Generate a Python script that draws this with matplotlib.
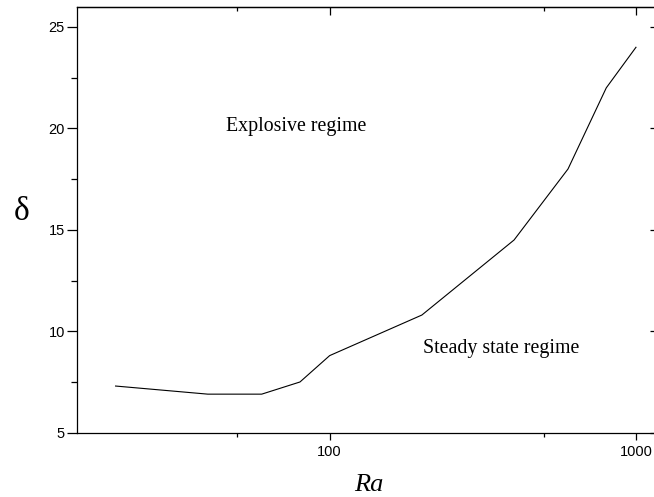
import numpy as np
import matplotlib
matplotlib.use("Agg")
import matplotlib.pyplot as plt
from matplotlib.ticker import FixedLocator, NullFormatter

# data
ra = [20, 40, 60, 80, 100, 200, 400, 600, 800, 1000]
delta = [7.3, 6.9, 6.9, 7.5, 8.8, 10.8, 14.5, 18.0, 22.0, 24.0]

x_major = [100, 1000]
x_minor = [50, 500]
y_major = [5, 10, 15, 20, 25]
y_minor = [7.5, 12.5, 17.5, 22.5]


def main():
    fig = plt.figure(figsize=(6.54, 4.97), dpi=100)
    # right spine sits just past the image edge, as in the reference
    ax = fig.add_axes([0.1182, 0.1294, 0.8913, 0.8571])

    ax.plot(ra, delta, color="black", linewidth=0.8)

    ax.set_xscale("log")
    ax.set_xlim(15, 1200)
    ax.set_ylim(5, 26)

    ax.xaxis.set_major_locator(FixedLocator(x_major))
    ax.xaxis.set_minor_locator(FixedLocator(x_minor))
    ax.xaxis.set_minor_formatter(NullFormatter())
    ax.set_xticklabels([str(v) for v in x_major])
    ax.yaxis.set_major_locator(FixedLocator(y_major))
    ax.yaxis.set_minor_locator(FixedLocator(y_minor))
    ax.set_yticklabels([str(v) for v in y_major])

    for s in ax.spines.values():
        s.set_linewidth(0.9)
    ax.spines["right"].set_visible(False)

    # bottom/left ticks point out, top/right mirrored inwards
    ax.tick_params(axis="x", which="major", direction="out", length=5, width=0.9,
                   pad=4, labelsize=10.5)
    ax.tick_params(axis="x", which="minor", direction="out", length=3, width=0.9)
    ax.tick_params(axis="y", which="major", direction="out", length=7, width=0.9,
                   pad=2, labelsize=10.5)
    ax.tick_params(axis="y", which="minor", direction="out", length=4, width=0.9)
    for lab in ax.get_xticklabels() + ax.get_yticklabels():
        lab.set_fontfamily("Liberation Sans")

    # mirrored ticks on top and right
    top = ax.secondary_xaxis("top")
    top.set_xscale("log")
    top.xaxis.set_major_locator(FixedLocator(x_major))
    top.xaxis.set_minor_locator(FixedLocator(x_minor))
    top.tick_params(which="major", direction="in", length=6, width=0.9, labeltop=False)
    top.tick_params(which="minor", direction="in", length=3, width=0.9)
    top.xaxis.set_major_formatter(NullFormatter())
    top.xaxis.set_minor_formatter(NullFormatter())
    top.spines["top"].set_linewidth(0.9)

    right = ax.secondary_yaxis("right")
    right.yaxis.set_major_locator(FixedLocator(y_major))
    right.yaxis.set_minor_locator(FixedLocator(y_minor))
    right.tick_params(which="major", direction="in", length=7, width=0.9, labelright=False)
    right.tick_params(which="minor", direction="in", length=4, width=0.9)
    right.yaxis.set_major_formatter(NullFormatter())
    right.spines["right"].set_visible(False)

    ax.text(46, 19.85, "Explosive regime", family="Liberation Serif",
            fontsize=14.3, ha="left", va="baseline")
    ax.text(202, 8.92, "Steady state regime", family="Liberation Serif",
            fontsize=14.3, ha="left", va="baseline")

    fig.text(0.0332, 0.5734, "\u03b4", family="Liberation Serif", fontsize=24,
             ha="center", va="center")
    fig.text(0.564, 0.012, "Ra", family="Liberation Serif", style="italic",
             fontsize=19, ha="center", va="baseline")

    fig.savefig("out.png", dpi=100)


if __name__ == "__main__":
    main()
